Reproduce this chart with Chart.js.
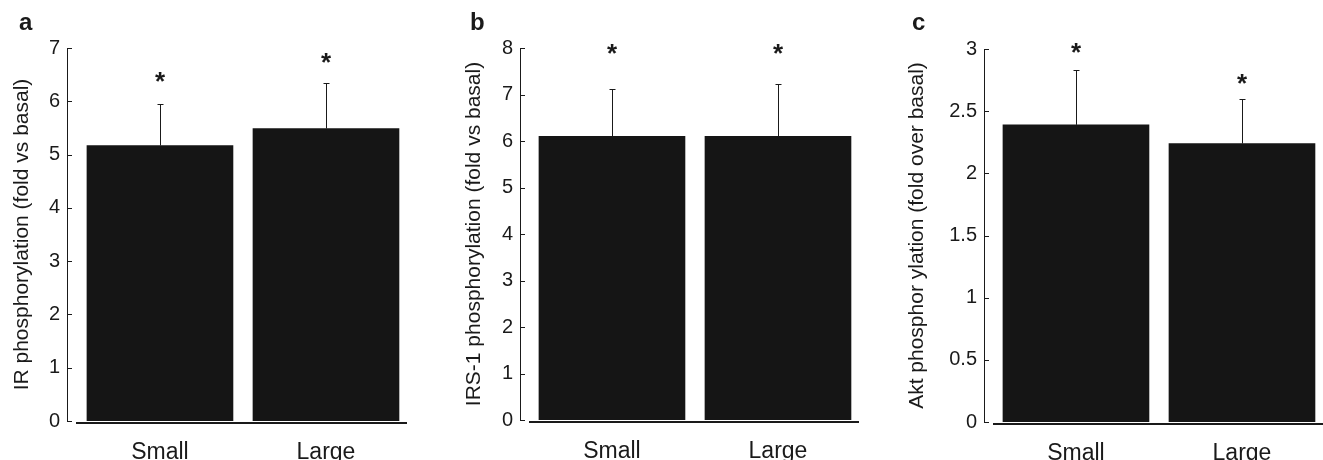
<!DOCTYPE html>
<html>
<head>
<meta charset="utf-8">
<title>Phosphorylation by adipocyte size</title>
<script src="https://cdn.jsdelivr.net/npm/chart.js@4.4.1/dist/chart.umd.min.js"></script>
<style>
    body { margin: 0; background: #fff; }
    #wrap { position: relative; width: 1323px; height: 460px; overflow: hidden; }
    #wrap canvas { position: absolute; top: 0; }
</style>
</head>
<body>
<div id="wrap">
    <canvas id="panelA" width="440" height="460" style="left:0px"></canvas>
    <canvas id="panelB" width="440" height="460" style="left:440px"></canvas>
    <canvas id="panelC" width="443" height="460" style="left:880px"></canvas>
</div>
<script>
// Data
const categories = ['Small', 'Large'];

// a: IR phosphorylation
const irValues = [5.17, 5.49];
const irSem = [0.78, 0.86];
const irStars = [6.45, 6.81];
const irTicks = [0, 1, 2, 3, 4, 5, 6, 7];

// b: IRS-1 phosphorylation
const irs1Values = [6.10, 6.10];
const irs1Sem = [1.02, 1.13];
const irs1Stars = [7.98, 7.98];
const irs1Ticks = [0, 1, 2, 3, 4, 5, 6, 7, 8];

// c: Akt phosphorylation
const aktValues = [2.39, 2.24];
const aktSem = [0.44, 0.36];
const aktStars = [3.01, 2.76];
const aktTicks = [0, 0.5, 1, 1.5, 2, 2.5, 3];

const FONT = "'Liberation Sans', Arial, Helvetica, sans-serif";
const INK = '#1a1a1a';

/**
 * Build one panel. Layout numbers are in canvas pixels.
 */
function makePanel(canvasId, p) {
    const canvas = document.getElementById(canvasId);

    // error bars, stars, inward ticks, detached x axis line, panel letter
    const extras = {
        id: 'extras_' + canvasId,
        afterDatasetsDraw(chart) {
            const { ctx, chartArea, scales: { x, y } } = chart;
            ctx.save();
            ctx.strokeStyle = INK;
            ctx.lineWidth = 1;

            // inward ticks
            p.ticks.forEach(function (v) {
                const py = Math.round(y.getPixelForValue(v)) + 0.5;
                ctx.beginPath();
                ctx.moveTo(chartArea.left, py);
                ctx.lineTo(chartArea.left + 5, py);
                ctx.stroke();
            });

            // x axis line, detached from the y axis
            ctx.lineWidth = 2;
            ctx.beginPath();
            ctx.moveTo(chartArea.left + 9, chartArea.bottom + 2);
            ctx.lineTo(chartArea.right, chartArea.bottom + 2);
            ctx.stroke();

            // error bars (upper only)
            ctx.lineWidth = 1;
            p.values.forEach(function (v, i) {
                const px = Math.round(x.getPixelForValue(i + 1)) + 0.5;
                const base = y.getPixelForValue(v);
                const top = Math.round(y.getPixelForValue(v + p.sem[i])) + 0.5;
                ctx.beginPath();
                ctx.moveTo(px, base);
                ctx.lineTo(px, top);
                ctx.moveTo(px - 3, top);
                ctx.lineTo(px + 3, top);
                ctx.stroke();
            });

            // significance stars
            ctx.fillStyle = INK;
            ctx.font = 'bold 26px ' + FONT;
            ctx.textAlign = 'center';
            ctx.textBaseline = 'middle';
            p.stars.forEach(function (s, i) {
                const px = x.getPixelForValue(i + 1);
                const py = y.getPixelForValue(s);
                ctx.fillText('*', px, py + 6);
            });

            // panel letter
            ctx.font = 'bold 24px ' + FONT;
            ctx.textAlign = 'left';
            ctx.textBaseline = 'alphabetic';
            ctx.fillText(p.letter, p.letterX, 30);
            ctx.restore();
        }
    };

    const data = {
        datasets: [{
            data: p.values.map(function (v, i) { return { x: i + 1, y: v }; }),
            backgroundColor: '#151515',
            borderWidth: 0,
            barThickness: 146
        }]
    };

    const config = {
        type: 'bar',
        data: data,
        options: {
            responsive: false,
            animation: false,
            layout: {
                padding: { top: p.top, right: p.right, bottom: 0, left: 0 }
            },
            plugins: {
                legend: { display: false },
                tooltip: { enabled: false }
            },
            scales: {
                x: {
                    type: 'linear',
                    offset: false,
                    min: p.xMin,
                    max: p.xMax,
                    grid: { display: false, drawTicks: false, offset: false },
                    border: { display: false },
                    afterBuildTicks: function (scale) {
                        scale.ticks = categories.map(function (c, i) { return { value: i + 1 }; });
                    },
                    afterFit: function (scale) {
                        scale.height = 460 - p.bottom;
                    },
                    ticks: {
                        padding: 18,
                        color: INK,
                        font: { family: FONT, size: 23 },
                        callback: function (value) {
                            return categories[value - 1];
                        }
                    }
                },
                y: {
                    min: p.ticks[0],
                    max: p.ticks[p.ticks.length - 1],
                    grid: { display: false, drawTicks: false },
                    border: { display: true, color: INK, width: 1 },
                    afterBuildTicks: function (scale) {
                        scale.ticks = p.ticks.map(function (v) { return { value: v }; });
                    },
                    afterFit: function (scale) {
                        scale.width = p.axisX;
                    },
                    ticks: {
                        padding: 7,
                        color: INK,
                        font: { family: FONT, size: 20 },
                        callback: function (value) {
                            return String(value);
                        }
                    },
                    title: {
                        display: true,
                        text: p.title,
                        color: INK,
                        font: { family: FONT, size: 21 },
                        padding: { top: p.titlePad, bottom: 0 }
                    }
                }
            }
        },
        plugins: [extras]
    };

    new Chart(canvas, config);
}

makePanel('panelA', {
    letter: 'a', letterX: 19,
    title: 'IR phosphorylation (fold vs basal)',
    values: irValues, sem: irSem, stars: irStars, ticks: irTicks,
    axisX: 67, top: 48, bottom: 421, right: 33,
    xMin: 0.44, xMax: 2.488, titlePad: 10
});

makePanel('panelB', {
    letter: 'b', letterX: 30,
    title: 'IRS-1 phosphorylation (fold vs basal)',
    values: irs1Values, sem: irs1Sem, stars: irs1Stars, ticks: irs1Ticks,
    axisX: 80, top: 48, bottom: 420, right: 21,
    xMin: 0.446, xMax: 2.488, titlePad: 22
});

makePanel('panelC', {
    letter: 'c', letterX: 32,
    title: 'Akt phosphor ylation (fold over basal)',
    values: aktValues, sem: aktSem, stars: aktStars, ticks: aktTicks,
    axisX: 104, top: 49, bottom: 422, right: 0,
    xMin: 0.446, xMax: 2.488, titlePad: 25
});
</script>
</body>
</html>
